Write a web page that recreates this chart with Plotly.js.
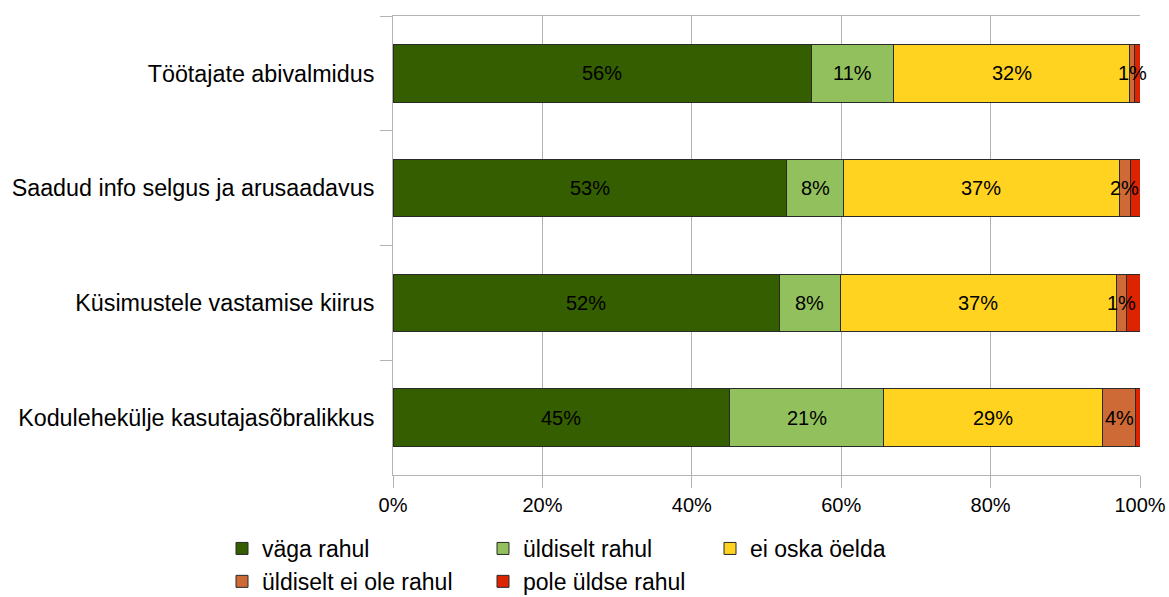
<!DOCTYPE html>
<html><head><meta charset="utf-8">
<script src="https://cdn.plot.ly/plotly-3.0.1.min.js"></script>
<style>html,body{margin:0;padding:0;background:#fff}#chart{width:1169px;height:597px}</style>
</head><body><div id="chart"></div>
<script>
const categories = ["Töötajate abivalmidus","Saadud info selgus ja arusaadavus","Küsimustele vastamise kiirus","Kodulehekülje kasutajasõbralikkus"];
const seriesNames = ["väga rahul","üldiselt rahul","ei oska öelda","üldiselt ei ole rahul","pole üldse rahul"];
const vagaRahul = [56.0, 52.7, 51.7, 45.1];
const uldiseltRahul = [11.0, 7.6, 8.2, 20.6];
const eiOska = [31.6, 36.9, 36.9, 29.3];
const uldiseltEiOle = [0.7, 1.5, 1.4, 4.4];
const poleUldse = [0.7, 1.3, 1.8, 0.6];
const labelsVaga = ["56%","53%","52%","45%"];
const labelsUldiselt = ["11%","8%","8%","21%"];
const labelsEiOska = ["32%","37%","37%","29%"];
const labelsEiOle = ["1%","2%","1%","4%"];
const labelsPole = ["","","",""];
const xTicks = [0,20,40,60,80,100];

const colors = ["#355e00","#92c05c","#ffd320","#cd6a35","#dd2400"];
const series = [vagaRahul, uldiseltRahul, eiOska, uldiseltEiOle, poleUldse];
const labels = [labelsVaga, labelsUldiselt, labelsEiOska, labelsEiOle, labelsPole];
const legendIds = ["legend","legend2","legend3","legend","legend2"];

const traces = series.map((vals,i)=>({
  type:'bar', orientation:'h', name:seriesNames[i], x:vals, y:categories,
  marker:{color:colors[i], line:{color:'#2a2a2a', width:1}},
  legend:legendIds[i], legendgroup:'g'+i, hoverinfo:'x+name'
}));

const annotations = [];
const cum = categories.map(()=>0);
series.forEach((vals,i)=>{
  vals.forEach((v,j)=>{
    if(labels[i][j]) annotations.push({x:cum[j]+v/2, y:categories[j], xref:'x', yref:'y', text:labels[i][j], showarrow:false, font:{size:20,color:'#000'}});
    cum[j]+=v;
  });
});

const legendFont = {family:'"Liberation Sans", Arial, sans-serif', size:23, color:'#000'};
const legY = (475-527)/459;
const layout = {
  width:1169, height:597,
  margin:{l:393, r:29, t:16, b:122, autoexpand:false},
  barmode:'stack', bargap:0.5,
  paper_bgcolor:'#fff', plot_bgcolor:'#fff',
  font:{family:'"Liberation Sans", Arial, sans-serif', size:20, color:'#000'},
  showlegend:true,
  xaxis:{range:[0,100], tickvals:xTicks, ticktext:xTicks.map(v=>v+'%'), showgrid:true, gridcolor:'#b3b3b3', gridwidth:1,
    zeroline:false, showline:true, mirror:true, linecolor:'#b3b3b3', linewidth:1, ticks:'outside', ticklen:12, tickcolor:'#b3b3b3',
    tickfont:{size:20}, fixedrange:true, automargin:false},
  yaxis:{type:'category', autorange:'reversed', tickson:'boundaries', ticks:'outside', ticklen:12, tickcolor:'#b3b3b3',
    showgrid:false, showline:true, linecolor:'#b3b3b3', linewidth:1, tickfont:{size:23.3}, ticklabelstandoff:13, fixedrange:true, automargin:false},
  legend:{x:(222-393)/747, xanchor:'left', y:legY, yanchor:'top', orientation:'v', font:legendFont, tracegroupgap:0, bgcolor:'rgba(0,0,0,0)'},
  legend2:{x:(483-393)/747, xanchor:'left', y:legY, yanchor:'top', orientation:'v', font:legendFont, tracegroupgap:0, bgcolor:'rgba(0,0,0,0)'},
  legend3:{x:(710-393)/747, xanchor:'left', y:legY, yanchor:'top', orientation:'v', font:legendFont, tracegroupgap:0, bgcolor:'rgba(0,0,0,0)'},
  annotations:annotations
};
Plotly.newPlot('chart', traces, layout, {displayModeBar:false, staticPlot:true});
</script></body></html>
